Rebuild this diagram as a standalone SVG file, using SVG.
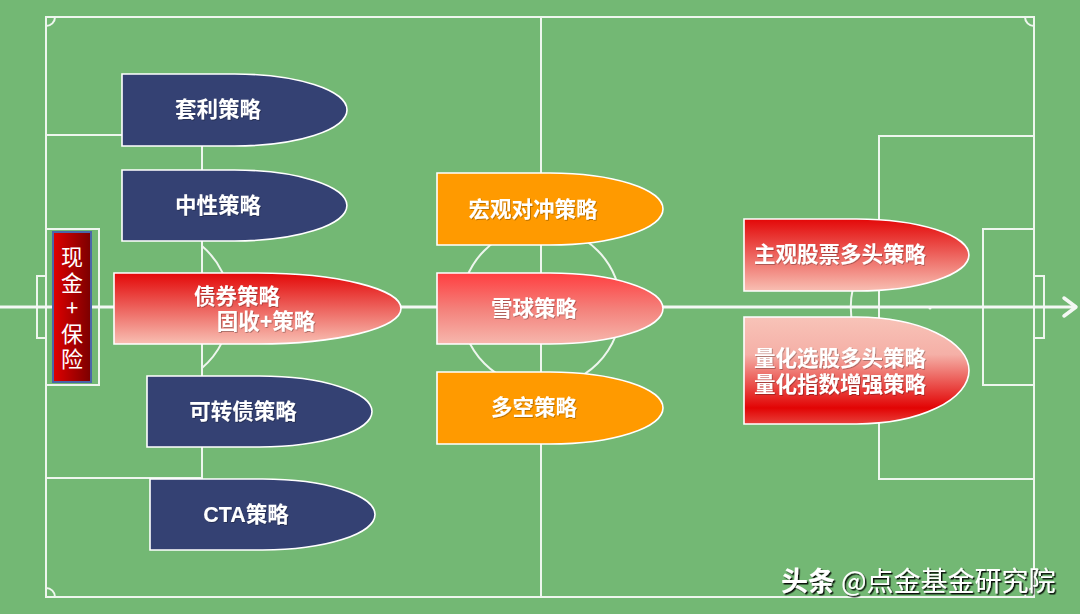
<svg xmlns="http://www.w3.org/2000/svg" width="1080" height="614" viewBox="0 0 1080 614">
<defs>
<style>
.fl{fill:none;stroke:#eef6ee;stroke-width:2}
.nd{stroke:#ffffff;stroke-width:1.6}
.navy{fill:#344173}
.org{fill:#ff9a00}
.t{font-family:"Liberation Sans","Noto Sans CJK SC",sans-serif;font-weight:bold;font-size:21.5px;fill:#ffffff;text-anchor:middle;filter:url(#sh)}
.v{font-family:"Noto Sans CJK SC",sans-serif;font-size:22px;fill:#ffffff;writing-mode:vertical-rl;text-orientation:upright;letter-spacing:3.5px}
.wm{font-family:"Noto Sans CJK SC",sans-serif;font-size:27px;fill:#ffffff;filter:url(#wsh)}
</style>
<linearGradient id="gRedDown" x1="0" y1="0" x2="0" y2="1">
<stop offset="0" stop-color="#e30808"/>
<stop offset="0.45" stop-color="#ec5a55"/>
<stop offset="1" stop-color="#f8bfb3"/>
</linearGradient>
<linearGradient id="gSnow" x1="0" y1="0" x2="0" y2="1">
<stop offset="0" stop-color="#ff3e40"/>
<stop offset="0.5" stop-color="#f4807a"/>
<stop offset="1" stop-color="#f6b7ad"/>
</linearGradient>
<linearGradient id="gRedUp" x1="0" y1="0" x2="0" y2="1">
<stop offset="0" stop-color="#f8c3b8"/>
<stop offset="0.35" stop-color="#f5b0a7"/>
<stop offset="0.85" stop-color="#e20404"/>
<stop offset="1" stop-color="#e8403a"/>
</linearGradient>
<linearGradient id="gCash" x1="0" y1="0" x2="1" y2="0">
<stop offset="0" stop-color="#e00000"/>
<stop offset="1" stop-color="#7a0000"/>
</linearGradient>
<filter id="sh" x="-10%" y="-30%" width="120%" height="160%">
<feDropShadow dx="0.8" dy="0.8" stdDeviation="0.6" flood-color="#000" flood-opacity="0.35"/>
</filter>
<filter id="wsh" x="-10%" y="-30%" width="120%" height="160%">
<feDropShadow dx="1.5" dy="1.5" stdDeviation="0.3" flood-color="#000" flood-opacity="0.9"/>
</filter>
</defs>
<rect x="0" y="0" width="1080" height="614" fill="#73b874"/>
<g id="field">
<rect class="fl" x="46" y="17" width="988" height="580"/>
<line class="fl" x1="541" y1="17" x2="541" y2="597"/>
<circle class="fl" cx="541" cy="307" r="80"/>
<path class="fl" d="M46,26 A9,9 0 0 0 55,17"/>
<path class="fl" d="M1025,17 A9,9 0 0 0 1034,26"/>
<path class="fl" d="M46,588 A9,9 0 0 1 55,597"/>
<path class="fl" d="M1025,597 A9,9 0 0 1 1034,588"/>
<rect class="fl" x="46" y="135" width="156" height="343"/>
<rect class="fl" x="46" y="229" width="53" height="156"/>
<rect class="fl" x="37" y="276" width="9" height="62"/>
<path class="fl" d="M202,246 A80,80 0 0 1 202,368"/>
<rect class="fl" x="879" y="136" width="155" height="343"/>
<rect class="fl" x="983" y="229" width="51" height="156"/>
<rect class="fl" x="1034" y="276" width="10" height="62"/>
<path class="fl" d="M879,246 A80,80 0 0 0 879,368"/>
<circle cx="930" cy="308" r="1.5" fill="#eef6ee"/>
</g>
<g id="connectors">
<line x1="0" y1="307" x2="1076" y2="307" stroke="#f4f8f4" stroke-width="3"/>
<polyline points="1064,298 1076,307 1064,316" fill="none" stroke="#f4f8f4" stroke-width="3.5" stroke-linecap="round" stroke-linejoin="round"/>
</g>
<g id="cash">
<rect x="53" y="232" width="38" height="150" fill="url(#gCash)" stroke="#4a66a8" stroke-width="2"/>
<text class="v" x="72" y="246">现金+保险</text>
</g>
<g id="n1">
<path class="nd navy" d="M122,74 H234.5 A112.5,36 0 0 1 234.5,146 H122Z"/>
<text class="t" x="218" y="117">套利策略</text>
</g>
<g id="n2">
<path class="nd navy" d="M122,170 H234.5 A112.5,35.5 0 0 1 234.5,241 H122Z"/>
<text class="t" x="218" y="213">中性策略</text>
</g>
<g id="n3">
<path class="nd" fill="url(#gRedDown)" d="M114,273 H257.5 A143.5,35.5 0 0 1 257.5,344 H114Z"/>
<text class="t" x="237" y="304">债券策略</text>
<text class="t" x="266" y="329">固收+策略</text>
</g>
<g id="n4">
<path class="nd navy" d="M147,376 H259.5 A112.5,35.5 0 0 1 259.5,447 H147Z"/>
<text class="t" x="243" y="419">可转债策略</text>
</g>
<g id="n5">
<path class="nd navy" d="M150,479 H262.5 A112.5,35.5 0 0 1 262.5,550 H150Z"/>
<text class="t" x="246" y="522">CTA策略</text>
</g>
<g id="n6">
<path class="nd org" d="M437,173 H550 A113,36 0 0 1 550,245 H437Z"/>
<text class="t" x="533" y="217">宏观对冲策略</text>
</g>
<g id="n7">
<path class="nd" fill="url(#gSnow)" d="M437,273 H550 A113,35.5 0 0 1 550,344 H437Z"/>
<text class="t" x="534" y="316">雪球策略</text>
</g>
<g id="n8">
<path class="nd org" d="M437,372 H550 A113,36 0 0 1 550,444 H437Z"/>
<text class="t" x="534" y="415">多空策略</text>
</g>
<g id="n9">
<path class="nd" fill="url(#gRedDown)" d="M744,219 H856.5 A112.5,36 0 0 1 856.5,291 H744Z"/>
<text class="t" x="840" y="262">主观股票多头策略</text>
</g>
<g id="n10">
<path class="nd" fill="url(#gRedUp)" d="M744,317 H856.5 A112.5,53.5 0 0 1 856.5,424 H744Z"/>
<text class="t" x="840" y="366">量化选股多头策略</text>
<text class="t" x="840" y="392">量化指数增强策略</text>
</g>
<text class="wm" x="781" y="591"><tspan font-weight="bold">头条</tspan> @点金基金研究院</text>
</svg>
